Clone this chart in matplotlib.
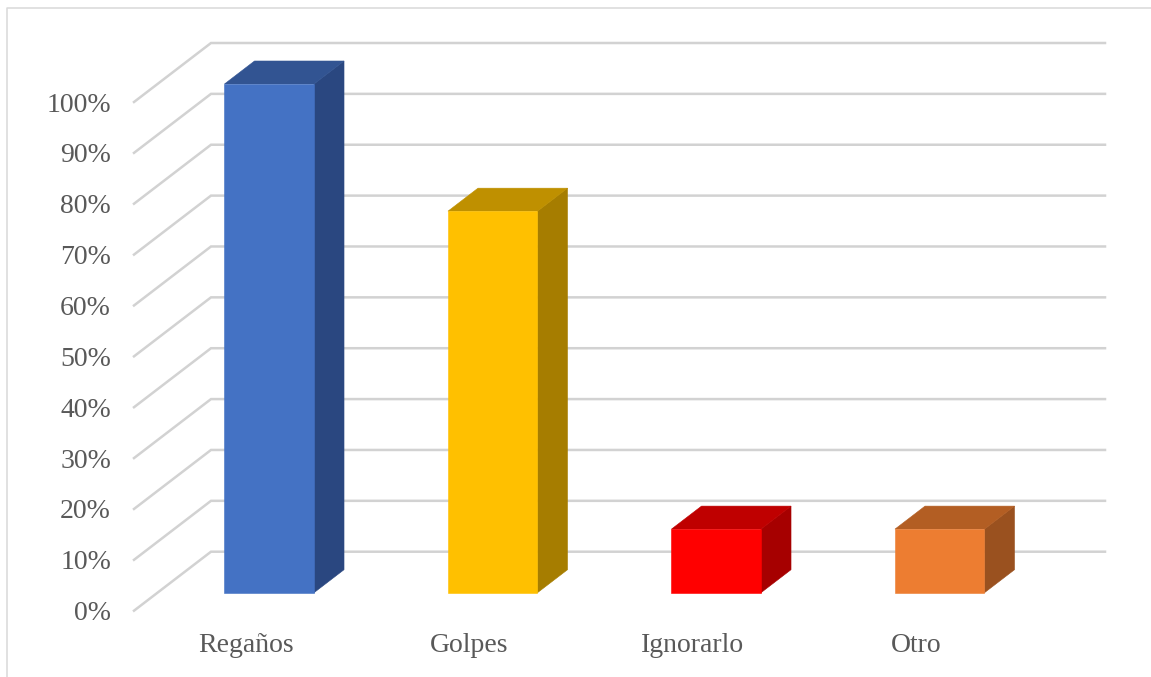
import matplotlib
matplotlib.use("Agg")
import matplotlib.pyplot as plt
from matplotlib.lines import Line2D

categories = ["Regaños", "Golpes", "Ignorarlo", "Otro"]
values = [100, 75, 12.5, 12.5]
front_colors = ["#4472C4", "#FFC000", "#FF0000", "#ED7D31"]
top_colors = ["#325492", "#BF9000", "#BF0000", "#B35E23"]
side_colors = ["#2A4780", "#A67D00", "#A60000", "#9A511F"]
y_ticks = list(range(0, 101, 10))
y_labels = [f"{v}%" for v in y_ticks]

W, H = 1151, 677
plt.rcParams["font.family"] = ["Liberation Serif", "DejaVu Serif"]

fig = plt.figure(figsize=(W / 100, H / 100), dpi=100)
ax = fig.add_axes([134 / W, 1 - 610.7 / H, 894 / W, 508.7 / H])
ax.set_xlim(-0.5, 3.5)
ax.set_ylim(0, 100)

# 3D look: depth is a shear in data units
px_x = 4 / 894
px_y = 100 / 508.7
wall_dx, wall_dy = 77 * px_x, 59 * px_y
bar_width = 89.5 * px_x
bar_front = 0.305   # fraction of the depth
bar_back = 0.695

# walls
grid_c = "#D2D2D2"
for v in y_ticks:
    ax.plot([-0.5, -0.5 + wall_dx, 3.5 + wall_dx], [v, v + wall_dy, v + wall_dy],
            color=grid_c, lw=1.8, clip_on=False, zorder=1, solid_joinstyle="miter")

# bars
for i, val in enumerate(values):
    x0 = i - bar_width / 2 + bar_front * wall_dx
    x1 = x0 + bar_width
    y0 = bar_front * wall_dy
    y1 = y0 + val
    dx = (bar_back - bar_front) * wall_dx
    dy = (bar_back - bar_front) * wall_dy
    ax.fill([x1, x1 + dx, x1 + dx, x1], [y0, y0 + dy, y1 + dy, y1],
            fc=side_colors[i], ec=side_colors[i], lw=0.4, clip_on=False, zorder=2)
    ax.fill([x0, x0 + dx, x1 + dx, x1], [y1, y1 + dy, y1 + dy, y1],
            fc=top_colors[i], ec=top_colors[i], lw=0.4, clip_on=False, zorder=2)
    ax.fill([x0, x1, x1, x0], [y0, y0, y1, y1],
            fc=front_colors[i], ec=front_colors[i], lw=0.4, clip_on=False, zorder=3)

for s in ax.spines.values():
    s.set_visible(False)
ax.patch.set_visible(False)
ax.set_xticks(range(len(categories)))
ax.set_xticklabels(categories)
ax.set_yticks(y_ticks)
ax.set_yticklabels(y_labels)
ax.tick_params(axis="x", length=0, pad=16, labelsize=20, labelcolor="#595959")
ax.tick_params(axis="y", length=0, pad=16.5, labelsize=20, labelcolor="#595959")

# chart border, only top and left are visible in the crop
fig.add_artist(Line2D([7.5 / W, 7.5 / W, 1], [0, 1 - 7.5 / H, 1 - 7.5 / H],
                      color="#D9D9D9", lw=1.1))

fig.savefig("out.png", dpi=100)
